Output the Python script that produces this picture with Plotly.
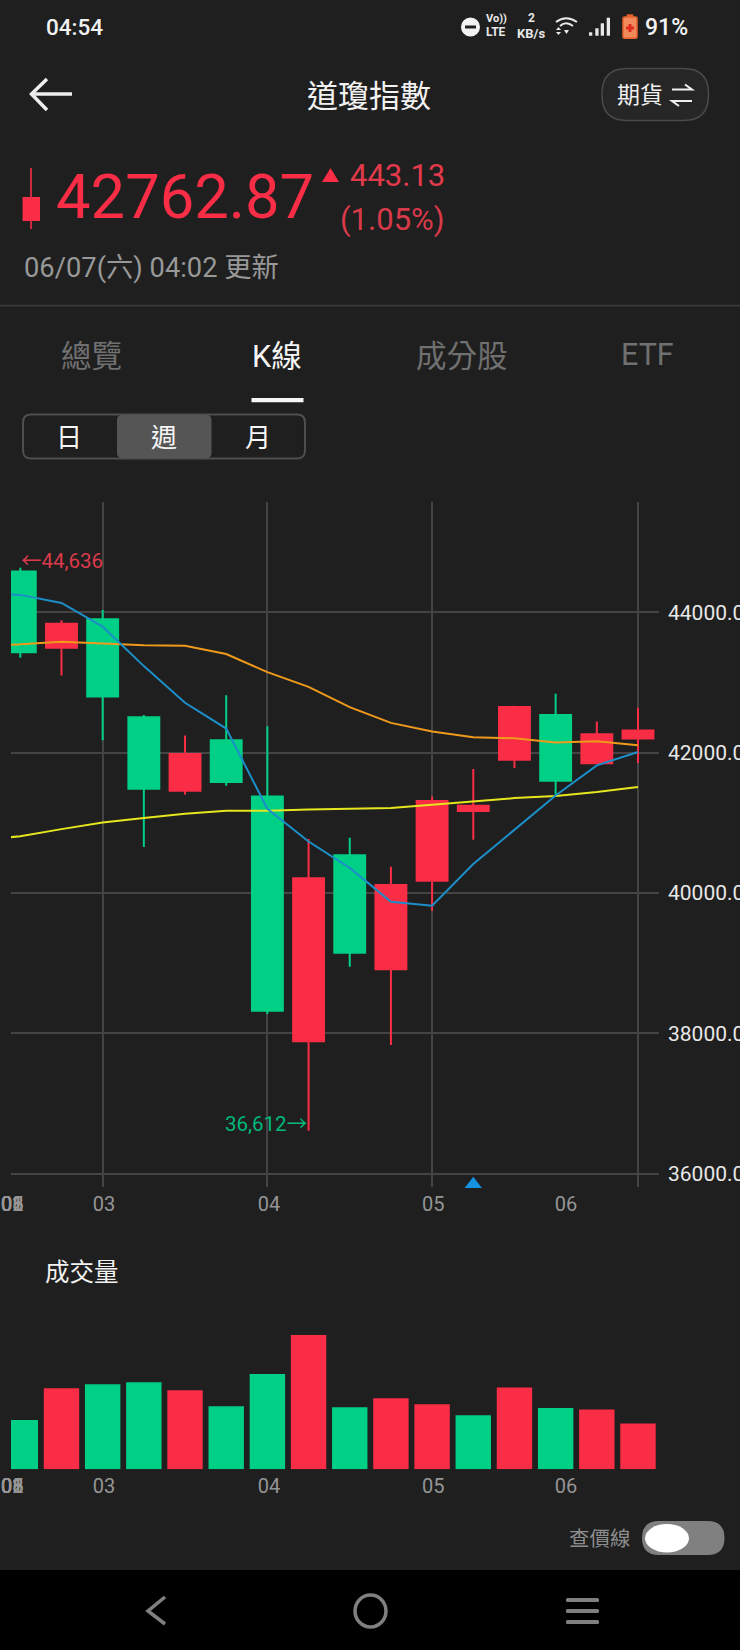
import plotly.graph_objects as go

W, H = 740, 1650
BG = '#1f1f1f'
RED = '#f92d45'
GREEN = '#00d085'
GRID = '#444444'
SANS = 'Roboto, "Noto Sans CJK TC", sans-serif'

# weekly index, 0 is the first full candle on screen
weeks = list(range(16))
opens = [44581, 43495, 43900, 42505, 41457, 42176, 41376, 37886,
         40538, 38912, 40175, 41167, 41900, 42538, 41848, 42200]
highs = [44636, 43886, 44033, 42538, 42243, 42819, 42376, 40771,
         40786, 40375, 41376, 41767, 42667, 42838, 42443, 42638]
lows = [43352, 43100, 42176, 40657, 41405, 41529, 38275, 36612,
        38949, 37833, 39748, 40757, 41781, 41390, 41848, 41852]
closes = [43429, 43838, 42800, 41486, 41981, 41581, 38322, 40209,
          39149, 40114, 41309, 41243, 42652, 41600, 42262, 42314]

ma_weeks = list(range(-1, 16))
ma_blue = [44270, 44248, 44133, 43795, 43233, 42710, 42343, 41200, 40733,
           40357, 39876, 39819, 40413, 40900, 41390, 41819, 42010]
ma_orange = [43519, 43543, 43581, 43557, 43529, 43524, 43405, 43148, 42938,
             42648, 42424, 42300, 42219, 42205, 42143, 42162, 42105]
ma_yellow = [40748, 40810, 40910, 41005, 41067, 41129, 41171, 41171, 41190,
             41200, 41210, 41257, 41300, 41352, 41381, 41438, 41510]

volumes = [49.3, 81, 85, 87, 79, 63, 95.3, 134.3, 62, 71, 65, 54, 81.7, 61.3, 59.7, 45.7]
vol_colors = [GREEN, RED, GREEN, GREEN, RED, GREEN, GREEN, RED,
              GREEN, RED, RED, GREEN, RED, GREEN, RED, RED]

price_ticks = [36000, 38000, 40000, 42000, 44000]
grid_weeks = [2, 6, 10, 15]
# earlier months pile up on the left edge, as in the app
month_pos = [-0.2, -0.199, -0.198, -0.197, -0.196, -0.195, 2.03, 6.04, 10.03, 13.25]
month_text = ['01', '02', '08', '05', '06', '09', '03', '04', '05', '06']
event_week = [11]
event_price = [35850]


def px(x):
    return x / W


def py(y):
    return 1 - y / H


def pt(x, y):
    return f'{px(x):.5f} {py(y):.5f}'


def rrect(x0, y0, x1, y1, r):
    return (f'M {pt(x0 + r, y0)} L {pt(x1 - r, y0)} Q {pt(x1, y0)} {pt(x1, y0 + r)} '
            f'L {pt(x1, y1 - r)} Q {pt(x1, y1)} {pt(x1 - r, y1)} '
            f'L {pt(x0 + r, y1)} Q {pt(x0, y1)} {pt(x0, y1 - r)} '
            f'L {pt(x0, y0 + r)} Q {pt(x0, y0)} {pt(x0 + r, y0)} Z')


def poly(points, close=False):
    s = 'M ' + ' L '.join(pt(x, y) for x, y in points)
    return s + ' Z' if close else s


def draw(path, fill=None, line=None, width=0):
    shapes.append(dict(type='path', path=path, xref='paper', yref='paper', layer='above',
                       fillcolor=fill or 'rgba(0,0,0,0)',
                       line=dict(color=line or 'rgba(0,0,0,0)', width=width)))


def box(x0, y0, x1, y1, fill):
    shapes.append(dict(type='rect', xref='paper', yref='paper', layer='above', x0=px(x0), x1=px(x1),
                       y0=py(y0), y1=py(y1), fillcolor=fill, line=dict(width=0)))


def oval(x0, y0, x1, y1, fill=None, line=None, width=0):
    shapes.append(dict(type='circle', xref='paper', yref='paper', layer='above', x0=px(x0), x1=px(x1),
                       y0=py(y0), y1=py(y1), fillcolor=fill or 'rgba(0,0,0,0)',
                       line=dict(color=line or 'rgba(0,0,0,0)', width=width)))


def label(x, y, text, size, color, anchor='left', weight=400):
    notes.append(dict(x=px(x), y=py(y), xref='paper', yref='paper', text=text, showarrow=False,
                      xanchor=anchor, yanchor='middle', borderpad=0,
                      font=dict(family=SANS, size=size, color=color, weight=weight)))


shapes = []
notes = []

# bottom nav
box(0, 1570, W, H, '#000000')
draw(poly([(165, 1597), (148, 1611), (165, 1624)]), line='#808080', width=3.5)
oval(355, 1595, 386, 1627, line='#808080', width=3.5)
for yy in (1600, 1611, 1622):
    draw(rrect(566, yy - 2, 599, yy + 2, 1.5), fill='#808080')

# status bar
label(45, 27, '04:54', 22.5, '#f2f2f2', weight=500)
oval(461, 17.5, 480, 36.5, fill='#f2f2f2')
box(465, 25.5, 476, 28.5, '#1f1f1f')
label(496, 19, 'Vo))', 11, '#e8e8e8', 'center', 700)
label(496, 32, 'LTE', 12, '#e8e8e8', 'center', 700)
label(531, 18, '2', 12, '#e8e8e8', 'center', 700)
label(531, 33, 'KB/s', 13, '#e8e8e8', 'center', 700)
draw(f'M {pt(556, 22)} Q {pt(566, 14.5)} {pt(577, 22)}', line='#e8e8e8', width=2)
draw(f'M {pt(560, 26)} Q {pt(566, 20.5)} {pt(573, 26)}', line='#e8e8e8', width=2)
draw(poly([(564, 30), (569, 30), (566.5, 34)], True), fill='#e8e8e8')
draw(poly([(556, 30), (561, 30), (558.5, 27)], True), fill='#e8e8e8')
draw(poly([(556, 32), (561, 32), (558.5, 35)], True), fill='#e8e8e8')
for x0, top in zip((589, 595.3, 600.7, 606.7), (32.3, 28.3, 23.3, 17.7)):
    box(x0, top, x0 + 3.3, 35.7, '#e8e8e8')
draw(rrect(623, 17, 637, 38.3, 1.5), fill='#f08a5a', line='#e8622c', width=1.5)
box(626.7, 14.3, 633.3, 17, '#e8622c')
box(628.5, 24, 631.5, 32, '#e02b20')
box(626, 26.5, 634, 29.5, '#e02b20')
label(644, 27.5, '91%', 23, '#f2f2f2', weight=500)

# header
draw(poly([(72, 94), (33, 94)]), line='#eeeeee', width=3.5)
draw(poly([(47, 79), (31.5, 94), (47, 110)]), line='#eeeeee', width=3.5)
label(369, 96, '道瓊指數', 31, '#f2f2f2', 'center')
draw(rrect(602, 68.5, 708.5, 120.5, 25), fill='#262626', line='#4a4a4a', width=1.5)
label(616, 95, '期貨', 23, '#f0f0f0')
draw(poly([(672, 89.5), (692, 89.5), (685, 84.5)]), line='#f0f0f0', width=2)
draw(poly([(692, 101), (672, 101), (679, 106)]), line='#f0f0f0', width=2)

# quote
box(30.2, 168, 31.8, 229, RED)
box(22.6, 197, 40, 221, RED)
label(54.5, 197, '42762.87', 61.5, RED)
draw(poly([(322, 182), (339, 182), (330.5, 168)], True), fill=RED)
label(445.5, 175, '443.13', 31, '#e33a4b', 'right')
label(445.5, 220, '(1.05%)', 31, '#d83a4a', 'right')
label(23, 268, '06/07(六) 04:02 更新', 27.3, '#989898')
box(0, 304.8, W, 306.6, '#3a3a3a')

# tabs
label(91.5, 356, '總覽', 30.5, '#707070', 'center')
label(276.5, 356, 'K線', 30.5, '#f5f5f5', 'center')
label(461.5, 356, '成分股', 30.5, '#707070', 'center')
label(647, 355, 'ETF', 30.5, '#707070', 'center')
box(251.5, 398, 303.5, 402.3, '#f5f5f5')
draw(rrect(23, 414.5, 305, 458.5, 8), line='#4e4e4e', width=2)
draw(rrect(117, 415, 211.5, 458, 5), fill='#555555')
label(69.4, 438, '日', 26, '#f5f5f5', 'center')
label(163.8, 438, '週', 26, '#f5f5f5', 'center')
label(258, 438, '月', 26, '#f5f5f5', 'center')

# chart captions
label(44, 1272, '成交量', 24.5, '#f2f2f2')
label(632, 1539, '查價線', 20.5, '#8c8c8c', 'right')
draw(rrect(642, 1521, 724.5, 1555, 17), fill='#808080')
oval(645, 1524, 689, 1552.5, fill='#ffffff')
notes.append(dict(x=0, y=highs[0], xref='x', yref='y', text='←44,636', showarrow=False, xanchor='left',
                  yanchor='middle', xshift=-1, yshift=7, font=dict(family=SANS, size=20.5, color='#dc3a4b')))
notes.append(dict(x=7, y=lows[7], xref='x', yref='y', text='36,612→', showarrow=False, xanchor='right',
                  yanchor='middle', yshift=7, font=dict(family=SANS, size=20.5, color='#00b87a')))

fig = go.Figure()
fig.add_trace(go.Candlestick(x=weeks, open=opens, high=highs, low=lows, close=closes, whiskerwidth=0,
                             increasing=dict(line=dict(color=RED, width=2), fillcolor=RED),
                             decreasing=dict(line=dict(color=GREEN, width=2), fillcolor=GREEN)))
fig.add_trace(go.Scatter(x=ma_weeks, y=ma_yellow, mode='lines', line=dict(color='#e6e61e', width=2)))
fig.add_trace(go.Scatter(x=ma_weeks, y=ma_orange, mode='lines', line=dict(color='#f09a1c', width=2)))
fig.add_trace(go.Scatter(x=ma_weeks, y=ma_blue, mode='lines', line=dict(color='#1c8fc9', width=2)))
fig.add_trace(go.Scatter(x=event_week, y=event_price, mode='markers', cliponaxis=False,
                         marker=dict(symbol='triangle-up', size=15, color='#1592e0')))
fig.add_trace(go.Bar(x=weeks, y=volumes, marker=dict(color=vol_colors, line=dict(width=0)),
                     xaxis='x2', yaxis='y2'))

x_common = dict(domain=[px(11), px(659)], range=[-0.226, 15.51], tickmode='array', tickvals=month_pos,
                ticktext=month_text, tickangle=0, ticks='', showline=False, zeroline=False, automargin=False,
                ticklabeloverflow='allow', ticklabelstandoff=3,
                tickfont=dict(family=SANS, size=20, color='#959595'),
                showgrid=False, rangeslider=dict(visible=False))

fig.update_layout(
    width=W, height=H, margin=dict(l=0, r=0, t=0, b=0, pad=0), paper_bgcolor=BG, plot_bgcolor=BG,
    showlegend=False, boxgap=0.25, boxgroupgap=0, bargap=0.14, shapes=shapes, annotations=notes,
    xaxis=dict(x_common, anchor='y', minor=dict(tickmode='array', tickvals=grid_weeks, showgrid=True,
                                                gridcolor=GRID, gridwidth=1.5, ticks='')),
    yaxis=dict(domain=[py(1187), py(501.7)], range=[35810, 45576], side='right', tickmode='array',
               tickvals=price_ticks, tickformat='.1f', showgrid=True, gridcolor=GRID, gridwidth=1.5,
               zeroline=False, showline=False, ticks='', ticklabelstandoff=8, automargin=False,
               tickfont=dict(family=SANS, size=21, color='#e8e8e8')),
    xaxis2=dict(x_common, anchor='y2'),
    yaxis2=dict(domain=[py(1469.3), py(1320)], range=[0, 149.3], visible=False, automargin=False),
)

fig.write_html('out.html', config=dict(displayModeBar=False, responsive=False),
               default_width='740px', default_height='1650px',
               post_script="document.body.style.margin='0';document.documentElement.style.overflow='hidden';"
                           "document.body.style.background='#1f1f1f';")
